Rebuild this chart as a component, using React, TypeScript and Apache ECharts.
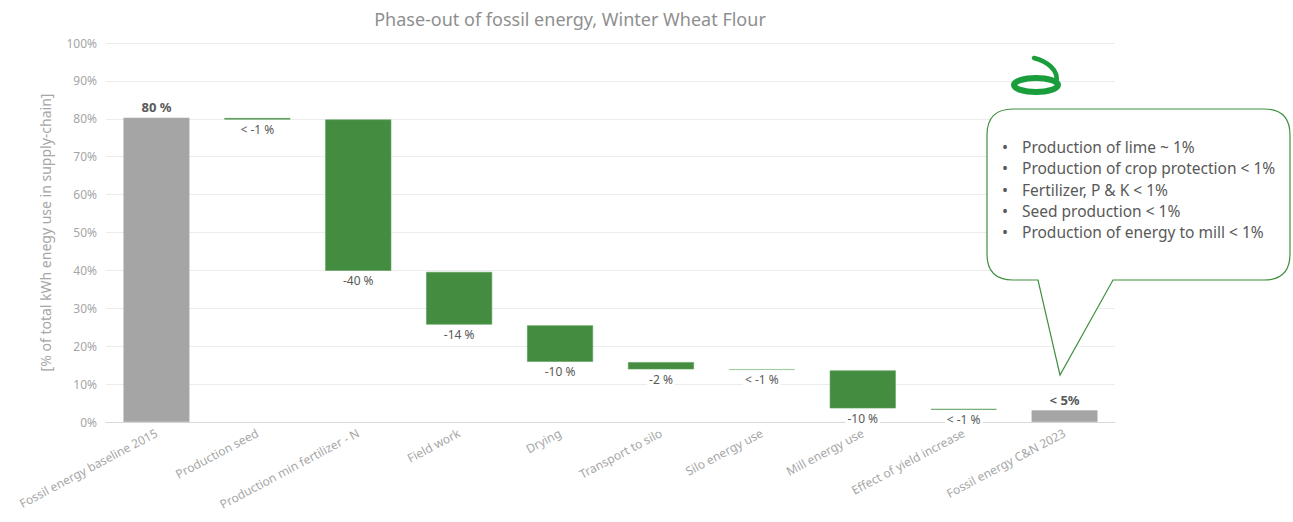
import React, { useEffect, useRef } from "react";
import * as echarts from "echarts";

const categories = [
  "Fossil energy baseline 2015",
  "Production seed",
  "Production min fertilizer - N",
  "Field work",
  "Drying",
  "Transport to silo",
  "Silo energy use",
  "Mill energy use",
  "Effect of yield increase",
  "Fossil energy C&N 2023",
];
// bottom and top of each floating bar, in % of total kWh
const barBottoms = [0, 79.8, 39.9, 25.7, 15.9, 13.9, 13.75, 3.6, 3.25, 0];
const barTops = [80.3, 80.2, 79.8, 39.6, 25.5, 15.8, 13.95, 13.6, 3.45, 3.1];
const barLabels = ["80 %", "< -1 %", "-40 %", "-14 %", "-10 %", "-2 %", "< -1 %", "-10 %", "< -1 %", "< 5%"];
const barKinds = ["total", "change", "change", "change", "change", "change", "minor", "change", "change", "total"];
const yTickValues = [0, 10, 20, 30, 40, 50, 60, 70, 80, 90, 100];
const calloutLines = [
  "Production of lime ~ 1%",
  "Production of crop protection < 1%",
  "Fertilizer, P & K < 1%",
  "Seed production < 1%",
  "Production of energy to mill < 1%",
];
const titleText = "Phase-out of fossil energy, Winter Wheat Flour";
const yAxisName = "[% of total kWh enegy use in supply-chain]";

const FONT = "'Noto Sans', 'Open Sans', sans-serif";

export default function App() {
  const ref = useRef<HTMLDivElement>(null);

  useEffect(() => {
    document.body.style.margin = "0";
    if (!ref.current) return;
    const chart = echarts.init(ref.current, undefined, { renderer: "svg" });

    echarts.graphic.registerShape(
      "callout",
      echarts.graphic.extendPath(
        "M 1013 109 H 1264 Q 1290 109 1290 135 V 254 Q 1290 280 1264 280 H 1113 L 1060 375 L 1038 280 H 1013 Q 987 280 987 254 V 135 Q 987 109 1013 109 Z",
        {}
      )
    );

    const kindColor: Record<string, string> = {
      total: "#a5a5a5",
      change: "#438c40",
      minor: "#86c384",
    };

    const changeData = barTops.map((t, i) => {
      const kind = barKinds[i];
      const isTotal = kind === "total";
      return {
        value: +(t - barBottoms[i]).toFixed(2),
        itemStyle: {
          color: kindColor[kind],
          borderColor: isTotal ? "#b0b0b0" : kind === "minor" ? "#86c384" : "#5aa057",
          borderWidth: isTotal ? 0.5 : 0.6,
        },
        label: {
          show: true,
          position: isTotal ? "top" : "bottom",
          distance: 4,
          formatter: barLabels[i],
          fontFamily: FONT,
          fontSize: isTotal ? 13 : 12,
          fontWeight: isTotal ? "bold" : "normal",
          color: "#595959",
          backgroundColor: "#ffffff",
          padding: [0, 2],
        },
      };
    });

    const option: any = {
      animation: false,
      backgroundColor: "#ffffff",
      title: {
        text: titleText,
        left: 565,
        top: 5,
        textAlign: "center",
        textStyle: {
          fontFamily: FONT,
          fontSize: 18,
          fontWeight: "normal",
          color: "#8f8f8f",
        },
      },
      grid: { left: 106, right: 178, top: 43, bottom: 100, containLabel: false },
      xAxis: {
        type: "category",
        data: categories,
        axisLine: { show: true, lineStyle: { color: "#d9d9d9" } },
        axisTick: { show: false },
        axisLabel: {
          interval: 0,
          rotate: 28,
          margin: 10,
          fontFamily: FONT,
          fontSize: 12,
          color: "#a6a6a6",
        },
      },
      yAxis: {
        type: "value",
        min: 0,
        max: 100,
        interval: 10,
        name: yAxisName,
        nameLocation: "middle",
        nameGap: 54,
        nameTextStyle: { fontFamily: FONT, fontSize: 14, color: "#a6a6a6" },
        axisLine: { show: false },
        axisTick: { show: false },
        axisLabel: {
          formatter: (v: number) => (yTickValues.includes(v) ? `${v}%` : ""),
          fontFamily: FONT,
          fontSize: 12,
          color: "#a6a6a6",
          margin: 9,
        },
        splitLine: { show: true, lineStyle: { color: "#ececec", width: 1 } },
      },
      series: [
        {
          type: "bar",
          stack: "wf",
          silent: true,
          barWidth: 66,
          itemStyle: { color: "transparent" },
          data: barBottoms,
        },
        {
          type: "bar",
          stack: "wf",
          barWidth: 66,
          data: changeData,
        },
      ],
      graphic: [
        {
          type: "callout",
          x: 0,
          y: 0,
          z: 100,
          style: { fill: "#ffffff", stroke: "#3f8f3f", lineWidth: 1.2 },
        },
        ...calloutLines.flatMap((line, i) => [
          {
            type: "text",
            z: 101,
            x: 1002,
            y: 147 + i * 21.3,
            style: {
              text: "•",
              font: `16px ${FONT}`,
              fill: "#595959",
              textVerticalAlign: "middle",
            },
          },
          {
            type: "text",
            z: 101,
            x: 1022,
            y: 147 + i * 21.3,
            style: {
              text: line,
              font: `15.5px ${FONT}`,
              fill: "#595959",
              textVerticalAlign: "middle",
            },
          },
        ]),
        {
          type: "ellipse",
          z: 100,
          shape: { cx: 1036, cy: 85, rx: 22, ry: 7 },
          style: { fill: "none", stroke: "#1a9e3c", lineWidth: 6 },
        },
        {
          type: "bezierCurve",
          z: 100,
          shape: { x1: 1034, y1: 58, cpx1: 1046, cpy1: 61, cpx2: 1060, cpy2: 70, x2: 1056, y2: 83 },
          style: { fill: "none", stroke: "#1a9e3c", lineWidth: 4.5, lineCap: "round" },
        },
      ],
    };

    chart.setOption(option);
    return () => chart.dispose();
  }, []);

  return <div ref={ref} style={{ width: 1293, height: 522 }} />;
}
